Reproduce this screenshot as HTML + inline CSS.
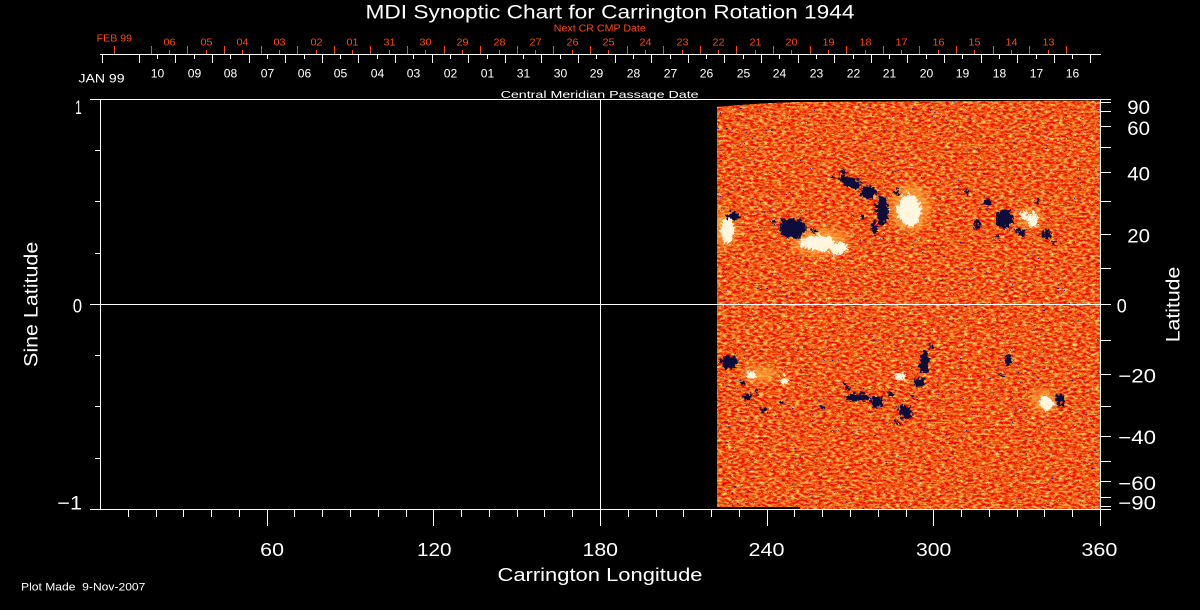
<!DOCTYPE html>
<html>
<head>
<meta charset="utf-8">
<style>
html,body{margin:0;padding:0;background:#000;}
svg{display:block;}
text{font-family:"Liberation Sans",sans-serif;}
</style>
</head>
<body>
<svg width="1200" height="610" viewBox="0 0 1200 610" xmlns="http://www.w3.org/2000/svg">
<defs>
  <clipPath id="dclip">
    <path d="M717 107 Q760 103 800 102 L1100 100.5 L1100 509 L800 509 L800 507 L717 507 Z"/>
  </clipPath>
  <filter id="tx" filterUnits="userSpaceOnUse" x="717" y="99" width="384" height="411" color-interpolation-filters="sRGB">
    <feTurbulence type="fractalNoise" baseFrequency="0.22 0.45" numOctaves="3" seed="7"/>
    <feColorMatrix type="matrix" values="0 0 0 0 0.96  1.7 0 0 0 -0.5  1.0 0 0 0 -0.42  0 0 0 0 1"/>
  </filter>
  <filter id="dk" filterUnits="userSpaceOnUse" x="717" y="99" width="384" height="411" color-interpolation-filters="sRGB">
    <feTurbulence type="fractalNoise" baseFrequency="0.35 0.6" numOctaves="2" seed="21"/>
    <feColorMatrix type="matrix" values="0 0 0 0 0.08  0 0 0 0 0.08  0 0 0 0 0.55  18 0 0 0 -12.9"/>
  </filter>
  <filter id="yl" filterUnits="userSpaceOnUse" x="717" y="99" width="384" height="411" color-interpolation-filters="sRGB">
    <feTurbulence type="fractalNoise" baseFrequency="0.35 0.6" numOctaves="2" seed="33"/>
    <feColorMatrix type="matrix" values="0 0 0 0 1  0 0 0 0 0.8  0 0 0 0 0.4  18 0 0 0 -12.6"/>
  </filter>
  <filter id="rag" filterUnits="userSpaceOnUse" x="700" y="150" width="400" height="300">
    <feTurbulence type="turbulence" baseFrequency="0.22" numOctaves="2" seed="4" result="n"/>
    <feDisplacementMap in="SourceGraphic" in2="n" scale="9" xChannelSelector="R" yChannelSelector="G"/>
  </filter>
  <filter id="halo" filterUnits="userSpaceOnUse" x="700" y="150" width="400" height="300">
    <feGaussianBlur stdDeviation="4"/>
  </filter>
</defs>

<!-- data image -->
<g clip-path="url(#dclip)">
  <rect x="717" y="99" width="384" height="411" fill="#f05a1e"/>
  <rect x="717" y="99" width="384" height="411" filter="url(#tx)"/>
  <rect x="717" y="99" width="384" height="411" filter="url(#yl)"/>
  <rect x="717" y="99" width="384" height="411" filter="url(#dk)"/>
  <g filter="url(#halo)" fill="#ffb040" opacity="0.7">
    <ellipse cx="725" cy="228" rx="12" ry="18"/>
    <ellipse cx="820" cy="242" rx="28" ry="14"/>
    <ellipse cx="910" cy="208" rx="20" ry="24"/>
    <ellipse cx="1030" cy="218" rx="10" ry="10"/>
    <ellipse cx="760" cy="374" rx="18" ry="8"/>
    <ellipse cx="1044" cy="401" rx="12" ry="12"/>
  </g>
  <g filter="url(#rag)">
    <g fill="#fff6e0">
      <ellipse cx="725" cy="228" rx="7" ry="13"/>
      <ellipse cx="815" cy="241" rx="17" ry="8"/>
      <ellipse cx="836" cy="246" rx="9" ry="6"/>
      <ellipse cx="907" cy="208" rx="12" ry="16"/>
      <ellipse cx="1031" cy="218" rx="5" ry="7"/>
      <ellipse cx="1022" cy="213" rx="4" ry="4"/>
      <ellipse cx="749" cy="373" rx="4" ry="5"/>
      <ellipse cx="782" cy="378" rx="5" ry="3"/>
      <ellipse cx="898" cy="374" rx="6" ry="3"/>
      <ellipse cx="1044" cy="401" rx="7" ry="7"/>
    </g>
    <g fill="#0d0d3a">
      <ellipse cx="731" cy="214" rx="7" ry="4"/>
      <ellipse cx="790" cy="226" rx="13" ry="10"/>
      <ellipse cx="848" cy="180" rx="12" ry="5" transform="rotate(20 848 180)"/>
      <ellipse cx="866" cy="190" rx="8" ry="6"/>
      <ellipse cx="880" cy="208" rx="6" ry="15"/>
      <ellipse cx="872" cy="226" rx="3" ry="7"/>
      <ellipse cx="1002" cy="217" rx="9" ry="9"/>
      <ellipse cx="985" cy="200" rx="5" ry="4"/>
      <ellipse cx="1018" cy="230" rx="5" ry="3"/>
      <ellipse cx="1045" cy="232" rx="4" ry="5"/>
      <ellipse cx="975" cy="222" rx="3" ry="5"/>
      <ellipse cx="727" cy="360" rx="8" ry="7"/>
      <ellipse cx="745" cy="395" rx="5" ry="3"/>
      <ellipse cx="762" cy="408" rx="4" ry="3"/>
      <ellipse cx="855" cy="395" rx="12" ry="4"/>
      <ellipse cx="874" cy="400" rx="6" ry="6"/>
      <ellipse cx="922" cy="360" rx="5" ry="11"/>
      <ellipse cx="917" cy="380" rx="5" ry="5"/>
      <ellipse cx="903" cy="410" rx="7" ry="7"/>
      <ellipse cx="1058" cy="398" rx="5" ry="6"/>
      <ellipse cx="1006" cy="357" rx="3" ry="7"/>
      <circle cx="840" cy="170" r="2.5"/><circle cx="830" cy="175" r="2"/>
      <circle cx="895" cy="190" r="2.5"/><circle cx="860" cy="215" r="2"/>
      <circle cx="965" cy="190" r="2.5"/><circle cx="995" cy="235" r="2.5"/>
      <circle cx="1035" cy="200" r="2"/><circle cx="1052" cy="240" r="2"/>
      <circle cx="812" cy="228" r="2.5"/><circle cx="770" cy="220" r="2"/>
      <circle cx="740" cy="380" r="2.5"/><circle cx="755" cy="390" r="2"/>
      <circle cx="845" cy="385" r="2.5"/><circle cx="888" cy="392" r="2.5"/>
      <circle cx="930" cy="345" r="2.5"/><circle cx="912" cy="395" r="2.5"/>
      <circle cx="895" cy="420" r="2"/><circle cx="1000" cy="372" r="2"/>
      <circle cx="780" cy="400" r="2"/><circle cx="820" cy="405" r="2"/>
    </g>
  </g>
</g>

<!-- plot frame -->
<path shape-rendering="crispEdges" stroke="#fff" stroke-width="1" fill="none" d="
M90 99.5H1101 M90 509.5H1101 M90 304.5H1101
M100.5 99V510 M1100.5 99V510 M600.5 99V510
M95 150.5H100 M95 201.5H100 M95 253.5H100 M95 355.5H100 M95 406.5H100 M95 458.5H100
M1100 99.5H1111 M1100 102.5H1111 M1100 111.5H1111 M1100 126.5H1111 M1100 147.5H1111 M1100 172.5H1111 M1100 201.5H1111 M1100 234.5H1111 M1100 268.5H1111 M1100 304.5H1111 M1100 340.5H1111 M1100 374.5H1111 M1100 406.5H1111 M1100 436.5H1111 M1100 461.5H1111 M1100 481.5H1111 M1100 497.5H1111 M1100 506.5H1111 M1100 509.5H1111
M128.5 509V517 M156.5 509V517 M183.5 509V517 M211.5 509V517 M239.5 509V517 M267.5 509V526 M294.5 509V517 M322.5 509V517 M350.5 509V517 M378.5 509V517 M406.5 509V517 M433.5 509V526 M461.5 509V517 M489.5 509V517 M517.5 509V517 M544.5 509V517 M572.5 509V517 M600.5 509V526 M628.5 509V517 M656.5 509V517 M683.5 509V517 M711.5 509V517 M739.5 509V517 M767.5 509V526 M794.5 509V517 M822.5 509V517 M850.5 509V517 M878.5 509V517 M906.5 509V517 M933.5 509V526 M961.5 509V517 M989.5 509V517 M1017.5 509V517 M1044.5 509V517 M1072.5 509V517 M1100.5 509V526
"/>

<!-- top date axis -->
<path shape-rendering="crispEdges" stroke="#fff" stroke-width="1" fill="none" d="
M100 54.5H1101
M102.5 54V63 M139.5 54V63 M175.5 54V63 M212.5 54V63 M249.5 54V63 M285.5 54V63 M322.5 54V63 M358.5 54V63 M395.5 54V63 M432.5 54V63 M468.5 54V63 M505.5 54V63 M541.5 54V63 M578.5 54V63 M615.5 54V63 M651.5 54V63 M688.5 54V63 M724.5 54V63 M761.5 54V63 M798.5 54V63 M834.5 54V63 M871.5 54V63 M907.5 54V63 M944.5 54V63 M981.5 54V63 M1017.5 54V63 M1054.5 54V63 M1090.5 54V63
M157.5 54V59 M194.5 54V59 M230.5 54V59 M267.5 54V59 M304.5 54V59 M340.5 54V59 M377.5 54V59 M413.5 54V59 M450.5 54V59 M487.5 54V59 M523.5 54V59 M560.5 54V59 M596.5 54V59 M633.5 54V59 M670.5 54V59 M706.5 54V59 M743.5 54V59 M779.5 54V59 M816.5 54V59 M853.5 54V59 M889.5 54V59 M926.5 54V59 M962.5 54V59 M999.5 54V59 M1036.5 54V59 M1072.5 54V59
"/>
<path shape-rendering="crispEdges" stroke="#ff4a0a" stroke-width="1" fill="none" d="
M114.5 46V54 M151.5 46V54 M187.5 46V54 M224.5 46V54 M261.5 46V54 M297.5 46V54 M334.5 46V54 M370.5 46V54 M407.5 46V54 M444.5 46V54 M480.5 46V54 M517.5 46V54 M553.5 46V54 M590.5 46V54 M627.5 46V54 M663.5 46V54 M700.5 46V54 M736.5 46V54 M773.5 46V54 M810.5 46V54 M846.5 46V54 M883.5 46V54 M919.5 46V54 M956.5 46V54 M993.5 46V54 M1029.5 46V54 M1066.5 46V54
M169.5 50V54 M206.5 50V54 M242.5 50V54 M279.5 50V54 M316.5 50V54 M352.5 50V54 M389.5 50V54 M425.5 50V54 M462.5 50V54 M499.5 50V54 M535.5 50V54 M572.5 50V54 M608.5 50V54 M645.5 50V54 M682.5 50V54 M718.5 50V54 M755.5 50V54 M791.5 50V54 M828.5 50V54 M865.5 50V54 M901.5 50V54 M938.5 50V54 M974.5 50V54 M1011.5 50V54 M1048.5 50V54
"/>

<!-- title -->
<text x="365.5" y="18.3" font-size="19" fill="#fff" textLength="489" lengthAdjust="spacingAndGlyphs">MDI Synoptic Chart for Carrington Rotation 1944</text>
<text x="553.8" y="31.7" font-size="10" fill="#ff4a0a" textLength="92" lengthAdjust="spacingAndGlyphs">Next CR CMP Date</text>
<text x="96.7" y="41.7" font-size="10.5" fill="#ff4a0a" textLength="35.3" lengthAdjust="spacingAndGlyphs">FEB 99</text>

<!-- red date labels -->
<g font-size="10.5" fill="#ff4a0a" text-anchor="middle">
<text x="169.5" y="45.7" textLength="12" lengthAdjust="spacingAndGlyphs">06</text>
<text x="206.5" y="45.7" textLength="12" lengthAdjust="spacingAndGlyphs">05</text>
<text x="242.5" y="45.7" textLength="12" lengthAdjust="spacingAndGlyphs">04</text>
<text x="279.5" y="45.7" textLength="12" lengthAdjust="spacingAndGlyphs">03</text>
<text x="316.5" y="45.7" textLength="12" lengthAdjust="spacingAndGlyphs">02</text>
<text x="352.5" y="45.7" textLength="12" lengthAdjust="spacingAndGlyphs">01</text>
<text x="389.5" y="45.7" textLength="12" lengthAdjust="spacingAndGlyphs">31</text>
<text x="425.5" y="45.7" textLength="12" lengthAdjust="spacingAndGlyphs">30</text>
<text x="462.5" y="45.7" textLength="12" lengthAdjust="spacingAndGlyphs">29</text>
<text x="499.5" y="45.7" textLength="12" lengthAdjust="spacingAndGlyphs">28</text>
<text x="535.5" y="45.7" textLength="12" lengthAdjust="spacingAndGlyphs">27</text>
<text x="572.5" y="45.7" textLength="12" lengthAdjust="spacingAndGlyphs">26</text>
<text x="608.5" y="45.7" textLength="12" lengthAdjust="spacingAndGlyphs">25</text>
<text x="645.5" y="45.7" textLength="12" lengthAdjust="spacingAndGlyphs">24</text>
<text x="682.5" y="45.7" textLength="12" lengthAdjust="spacingAndGlyphs">23</text>
<text x="718.5" y="45.7" textLength="12" lengthAdjust="spacingAndGlyphs">22</text>
<text x="755.5" y="45.7" textLength="12" lengthAdjust="spacingAndGlyphs">21</text>
<text x="791.5" y="45.7" textLength="12" lengthAdjust="spacingAndGlyphs">20</text>
<text x="828.5" y="45.7" textLength="12" lengthAdjust="spacingAndGlyphs">19</text>
<text x="865.5" y="45.7" textLength="12" lengthAdjust="spacingAndGlyphs">18</text>
<text x="901.5" y="45.7" textLength="12" lengthAdjust="spacingAndGlyphs">17</text>
<text x="938.5" y="45.7" textLength="12" lengthAdjust="spacingAndGlyphs">16</text>
<text x="974.5" y="45.7" textLength="12" lengthAdjust="spacingAndGlyphs">15</text>
<text x="1011.5" y="45.7" textLength="12" lengthAdjust="spacingAndGlyphs">14</text>
<text x="1048.5" y="45.7" textLength="12" lengthAdjust="spacingAndGlyphs">13</text>
</g>

<!-- white date labels -->
<text x="78.5" y="82.7" font-size="12" fill="#fff" textLength="46" lengthAdjust="spacingAndGlyphs">JAN 99</text>
<g font-size="12" fill="#fff" text-anchor="middle">
<text x="157.5" y="77.7" textLength="13.5" lengthAdjust="spacingAndGlyphs">10</text>
<text x="194.5" y="77.7" textLength="13.5" lengthAdjust="spacingAndGlyphs">09</text>
<text x="230.5" y="77.7" textLength="13.5" lengthAdjust="spacingAndGlyphs">08</text>
<text x="267.5" y="77.7" textLength="13.5" lengthAdjust="spacingAndGlyphs">07</text>
<text x="304.5" y="77.7" textLength="13.5" lengthAdjust="spacingAndGlyphs">06</text>
<text x="340.5" y="77.7" textLength="13.5" lengthAdjust="spacingAndGlyphs">05</text>
<text x="377.5" y="77.7" textLength="13.5" lengthAdjust="spacingAndGlyphs">04</text>
<text x="413.5" y="77.7" textLength="13.5" lengthAdjust="spacingAndGlyphs">03</text>
<text x="450.5" y="77.7" textLength="13.5" lengthAdjust="spacingAndGlyphs">02</text>
<text x="487.5" y="77.7" textLength="13.5" lengthAdjust="spacingAndGlyphs">01</text>
<text x="523.5" y="77.7" textLength="13.5" lengthAdjust="spacingAndGlyphs">31</text>
<text x="560.5" y="77.7" textLength="13.5" lengthAdjust="spacingAndGlyphs">30</text>
<text x="596.5" y="77.7" textLength="13.5" lengthAdjust="spacingAndGlyphs">29</text>
<text x="633.5" y="77.7" textLength="13.5" lengthAdjust="spacingAndGlyphs">28</text>
<text x="670.5" y="77.7" textLength="13.5" lengthAdjust="spacingAndGlyphs">27</text>
<text x="706.5" y="77.7" textLength="13.5" lengthAdjust="spacingAndGlyphs">26</text>
<text x="743.5" y="77.7" textLength="13.5" lengthAdjust="spacingAndGlyphs">25</text>
<text x="779.5" y="77.7" textLength="13.5" lengthAdjust="spacingAndGlyphs">24</text>
<text x="816.5" y="77.7" textLength="13.5" lengthAdjust="spacingAndGlyphs">23</text>
<text x="853.5" y="77.7" textLength="13.5" lengthAdjust="spacingAndGlyphs">22</text>
<text x="889.5" y="77.7" textLength="13.5" lengthAdjust="spacingAndGlyphs">21</text>
<text x="926.5" y="77.7" textLength="13.5" lengthAdjust="spacingAndGlyphs">20</text>
<text x="962.5" y="77.7" textLength="13.5" lengthAdjust="spacingAndGlyphs">19</text>
<text x="999.5" y="77.7" textLength="13.5" lengthAdjust="spacingAndGlyphs">18</text>
<text x="1036.5" y="77.7" textLength="13.5" lengthAdjust="spacingAndGlyphs">17</text>
<text x="1072.5" y="77.7" textLength="13.5" lengthAdjust="spacingAndGlyphs">16</text>
</g>

<text x="500.6" y="98" font-size="10.5" fill="#fff" textLength="198" lengthAdjust="spacingAndGlyphs">Central Meridian Passage Date</text>

<!-- left axis labels -->
<g font-size="19" fill="#fff">
<text x="75.3" y="114" textLength="6.4" lengthAdjust="spacingAndGlyphs">1</text>
<text x="72.7" y="312.7" textLength="9.3" lengthAdjust="spacingAndGlyphs">0</text>
<text x="57.3" y="509.3" textLength="24.7" lengthAdjust="spacingAndGlyphs">−1</text>
</g>
<text transform="translate(37.7,367) rotate(-90)" x="0" y="0" font-size="19" fill="#fff" textLength="125.3" lengthAdjust="spacingAndGlyphs">Sine Latitude</text>

<!-- right axis labels -->
<g font-size="19" fill="#fff">
<text x="1127.3" y="114" textLength="22.7" lengthAdjust="spacingAndGlyphs">90</text>
<text x="1127.3" y="135" textLength="22.7" lengthAdjust="spacingAndGlyphs">60</text>
<text x="1127.3" y="180.7" textLength="22.7" lengthAdjust="spacingAndGlyphs">40</text>
<text x="1127.3" y="242.7" textLength="22.7" lengthAdjust="spacingAndGlyphs">20</text>
<text x="1116.7" y="312.7" textLength="10" lengthAdjust="spacingAndGlyphs">0</text>
<text x="1118.3" y="382.7" textLength="37.7" lengthAdjust="spacingAndGlyphs">−20</text>
<text x="1118.3" y="444" textLength="37.7" lengthAdjust="spacingAndGlyphs">−40</text>
<text x="1118.3" y="490" textLength="37.7" lengthAdjust="spacingAndGlyphs">−60</text>
<text x="1118.3" y="509.3" textLength="37.7" lengthAdjust="spacingAndGlyphs">−90</text>
</g>
<text transform="translate(1179.3,342.3) rotate(-90)" x="0" y="0" font-size="19" fill="#fff" textLength="75.6" lengthAdjust="spacingAndGlyphs">Latitude</text>

<!-- bottom axis labels -->
<g font-size="18" fill="#fff">
<text x="260.2" y="556" textLength="23.8" lengthAdjust="spacingAndGlyphs">60</text>
<text x="417" y="556" textLength="34.6" lengthAdjust="spacingAndGlyphs">120</text>
<text x="582.5" y="556" textLength="35.5" lengthAdjust="spacingAndGlyphs">180</text>
<text x="748.5" y="556" textLength="36" lengthAdjust="spacingAndGlyphs">240</text>
<text x="916" y="556" textLength="35.3" lengthAdjust="spacingAndGlyphs">300</text>
<text x="1081.4" y="556" textLength="36" lengthAdjust="spacingAndGlyphs">360</text>
</g>
<text x="497.5" y="581" font-size="18" fill="#fff" textLength="205" lengthAdjust="spacingAndGlyphs">Carrington Longitude</text>
<text x="21" y="590.7" font-size="11" fill="#fff" textLength="124.4" lengthAdjust="spacingAndGlyphs" xml:space="preserve">Plot Made  9-Nov-2007</text>
</svg>
</body>
</html>
